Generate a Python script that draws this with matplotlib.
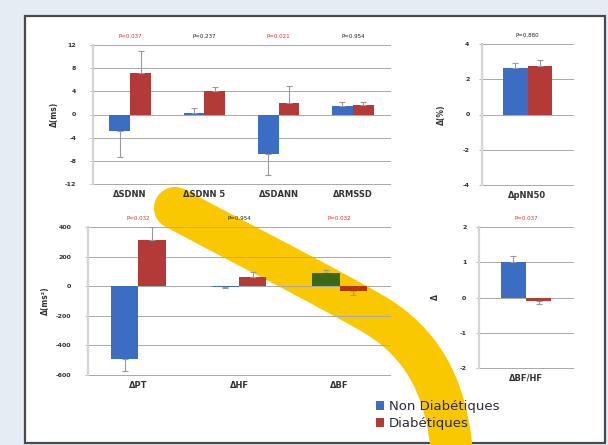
import numpy as np
import matplotlib
matplotlib.use("Agg")
import matplotlib.pyplot as plt
from matplotlib.patches import Rectangle, Polygon, Patch
from matplotlib.colors import to_rgb

# ---------------- data ----------------
time_cats = ["ΔSDNN", "ΔSDNN 5", "ΔSDANN", "ΔRMSSD"]
time_non = [-2.8, 0.2, -6.8, 1.4]
time_non_err = [4.5, 1.0, 3.6, 0.8]
time_dia = [7.2, 4.0, 1.9, 1.6]
time_dia_err = [3.8, 0.7, 3.0, 0.6]
time_p = ["P=0.037", "P=0.237", "P=0.021", "P=0.954"]
time_p_sig = [True, False, True, False]

pnn_cats = ["ΔpNN50"]
pnn_non = [2.65]
pnn_non_err = [0.30]
pnn_dia = [2.75]
pnn_dia_err = [0.35]
pnn_p = ["P=0.880"]
pnn_p_sig = [False]

freq_cats = ["ΔPT", "ΔHF", "ΔBF"]
freq_non = [-490, -5, 88]
freq_non_err = [85, 10, 22]
freq_dia = [309, 62, -33]
freq_dia_err = [91, 33, 25]
freq_p = ["P=0.032", "P=0.954", "P=0.032"]
freq_p_sig = [True, False, True]

ratio_cats = ["ΔBF/HF"]
ratio_non = [1.0]
ratio_non_err = [0.17]
ratio_dia = [-0.1]
ratio_dia_err = [0.08]
ratio_p = ["P=0.037"]
ratio_p_sig = [True]

legend_labels = ["Non Diabétiques", "Diabétiques"]

# ---------------- style ----------------
BLUE = "#3b6dc3"
RED = "#b43a38"
YELLOW = "#f9c800"
TINT = np.array([1.0, 0.95, 0.12])   # highlighter filter over coloured marks
W, H = 608, 445

fig = plt.figure(figsize=(W / 100, H / 100), dpi=100)
fig.patch.set_facecolor("#e4ecf4")

def px(x, y):
    return (x / W, 1 - y / H)

# white framed panel
x0, y0 = px(25, 443)
x1, y1 = px(605, 16)
fig.add_artist(Rectangle((x0, y0), x1 - x0, y1 - y0, transform=fig.transFigure,
                         facecolor="white", edgecolor="#4a4a4a", lw=1.6, zorder=-3))

# highlighter stroke (decoration) as polygon in pixel space
def bez(p0, c1, c2, p3, n=60):
    t = np.linspace(0, 1, n)[:, None]
    p0, c1, c2, p3 = map(np.array, (p0, c1, c2, p3))
    return ((1 - t) ** 3) * p0 + 3 * ((1 - t) ** 2) * t * c1 + 3 * (1 - t) * t ** 2 * c2 + t ** 3 * p3

c = np.vstack([bez((175, 208), (240, 243), (310, 278), (370, 312)),
               bez((370, 312), (425, 343), (450, 392), (453, 470))[1:]])
tan = np.gradient(c, axis=0)
tan /= np.linalg.norm(tan, axis=1)[:, None]
nrm = np.column_stack([-tan[:, 1], tan[:, 0]])
r = 21
left = c + r * nrm
right = c - r * nrm
th = np.linspace(np.pi, 0, 30)[:, None]
cap = c[0] + r * (np.cos(th) * nrm[0] + np.sin(th) * (-tan[0]))
poly_px = np.vstack([left, right[::-1], cap])
poly_fig = np.column_stack([poly_px[:, 0] / W, 1 - poly_px[:, 1] / H])
fig.add_artist(Polygon(poly_fig, closed=True, transform=fig.transFigure,
                       facecolor=YELLOW, edgecolor="none", zorder=-1))


def clip_poly(subject, xmin, xmax, ymin, ymax):
    def clip(pts, inside, inter):
        out = []
        for i in range(len(pts)):
            cur, prev = pts[i], pts[i - 1]
            if inside(cur):
                if not inside(prev):
                    out.append(inter(prev, cur))
                out.append(cur)
            elif inside(prev):
                out.append(inter(prev, cur))
        return out

    def ix(xc):
        return lambda p, q: (xc, p[1] + (q[1] - p[1]) * (xc - p[0]) / (q[0] - p[0]))

    def iy(yc):
        return lambda p, q: (p[0] + (q[0] - p[0]) * (yc - p[1]) / (q[1] - p[1]), yc)

    pts = [tuple(p) for p in subject]
    for inside, inter in [(lambda p: p[0] >= xmin, ix(xmin)),
                          (lambda p: p[0] <= xmax, ix(xmax)),
                          (lambda p: p[1] >= ymin, iy(ymin)),
                          (lambda p: p[1] <= ymax, iy(ymax))]:
        if not pts:
            break
        pts = clip(pts, inside, inter)
    return pts


all_bars = []


def make_ax(rect, cats, non, non_err, dia, dia_err, pvals, psig, ylim, yticks,
            ylabel, width, ylabel_x, ypad):
    ax = fig.add_axes(rect)
    ax.set_facecolor("none")
    xpos = np.arange(len(cats))
    non = np.array(non, float); dia = np.array(dia, float)
    ne = np.array(non_err, float); de = np.array(dia_err, float)

    def yerr(v, e):
        return [np.where(v < 0, e, 0), np.where(v >= 0, e, 0)]

    b1 = ax.bar(xpos - width / 2, non, width, color=BLUE, zorder=2)
    b2 = ax.bar(xpos + width / 2, dia, width, color=RED, zorder=2)
    ax.errorbar(xpos - width / 2, non, yerr=yerr(non, ne), fmt="none",
                ecolor="#9a9a9a", elinewidth=0.8, capsize=2, capthick=0.8, zorder=3)
    ax.errorbar(xpos + width / 2, dia, yerr=yerr(dia, de), fmt="none",
                ecolor="#9a9a9a", elinewidth=0.8, capsize=2, capthick=0.8, zorder=3)
    all_bars.extend([(b, BLUE) for b in b1] + [(b, RED) for b in b2])
    ax.set_xlim(-0.5, len(cats) - 0.5)
    ax.set_ylim(*ylim)
    ax.set_yticks(yticks)
    ax.set_yticklabels([str(t) for t in yticks], fontsize=4.5, fontweight="bold",
                       color="#333333")
    ax.set_xticks(xpos)
    ax.set_xticklabels(cats, fontsize=6, fontweight="bold", color="#333333")
    ax.tick_params(axis="x", length=0, pad=4)
    ax.tick_params(axis="y", length=2, width=0.6, color="#aaaaaa", pad=ypad)
    ax.grid(axis="y", color="#a8a8a8", lw=0.7, zorder=0)
    for gl in ax.get_ygridlines():
        gl.set_clip_on(False)
    ax.set_axisbelow(True)
    for s in ("top", "right", "bottom"):
        ax.spines[s].set_visible(False)
    ax.spines["left"].set_color("#d4d4d4")
    ax.spines["left"].set_linewidth(1.6)
    ax.set_ylabel(ylabel, fontsize=5.5, fontweight="bold", color="#333333")
    ax.yaxis.set_label_coords(ylabel_x, 0.5)
    for i, (p, sig) in enumerate(zip(pvals, psig)):
        ax.annotate(p, xy=(xpos[i], 1), xycoords=("data", "axes fraction"),
                    xytext=(0, 5.8), textcoords="offset points", ha="center",
                    va="center", fontsize=4, color="#e03030" if sig else "#222222")
    return ax


make_ax([93 / W, 1 - 184 / H, 297 / W, 139 / H], time_cats, time_non, time_non_err,
        time_dia, time_dia_err, time_p, time_p_sig, (-12, 12),
        [-12, -8, -4, 0, 4, 8, 12], "Δ(ms)", 0.28, -0.115, 10)
make_ax([482 / W, 1 - 185 / H, 91 / W, 141 / H], pnn_cats, pnn_non, pnn_non_err,
        pnn_dia, pnn_dia_err, pnn_p, pnn_p_sig, (-4, 4),
        [-4, -2, 0, 2, 4], "Δ(%)", 0.27, -0.40, 7)
make_ax([88 / W, 1 - 375 / H, 302 / W, 148 / H], freq_cats, freq_non, freq_non_err,
        freq_dia, freq_dia_err, freq_p, freq_p_sig, (-600, 400),
        [-600, -400, -200, 0, 200, 400], "Δ(ms²)", 0.27, -0.125, 10)
make_ax([479 / W, 1 - 368 / H, 94 / W, 141 / H], ratio_cats, ratio_non, ratio_non_err,
        ratio_dia, ratio_dia_err, ratio_p, ratio_p_sig, (-2, 2),
        [-2, -1, 0, 1, 2], "Δ", 0.27, -0.42, 7)

handles = [Patch(facecolor=BLUE), Patch(facecolor=RED)]
fig.legend(handles, legend_labels, loc="center left", bbox_to_anchor=(364 / W, 1 - 415 / H),
           frameon=False, fontsize=9.5, handlelength=0.6, handleheight=0.6,
           handletextpad=0.4, labelspacing=0.3, labelcolor="#2a2a40")

# highlighter tint where the stroke crosses the bars
fig.canvas.draw()
inv = fig.transFigure.inverted()
for b, col in all_bars:
    bb = b.get_window_extent().transformed(inv)
    pts = clip_poly(poly_fig, bb.x0, bb.x1, bb.y0, bb.y1)
    if len(pts) >= 3:
        mc = tuple(np.clip(np.array(to_rgb(col)) * TINT, 0, 1))
        fig.add_artist(Polygon(pts, closed=True, transform=fig.transFigure,
                               facecolor=mc, edgecolor="none", zorder=1))

fig.savefig("out.png", dpi=100, facecolor=fig.get_facecolor())
